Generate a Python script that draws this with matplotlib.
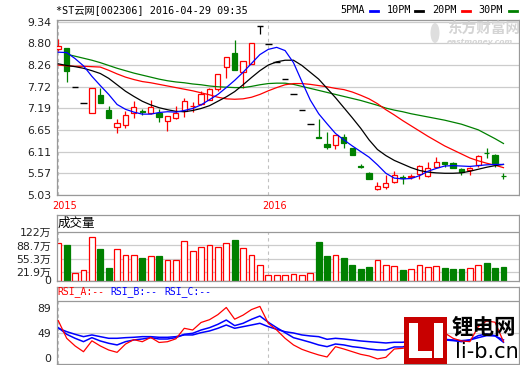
import matplotlib
matplotlib.use('Agg')
import matplotlib.pyplot as plt
from matplotlib.lines import Line2D
from matplotlib.patches import Rectangle, Ellipse
import numpy as np

# candle data (one entry per trading day shown)
open_ = [8.65, 8.68, 7.71, 7.31, 7.08, 7.52, 7.14, 6.73, 6.76, 7.06,
         7.11, 7.08, 7.06, 6.87, 6.95, 7.13, 7.23, 7.28, 7.39, 7.66,
         8.22, 8.55, 8.08, 8.28, 9.24, 8.78, 8.34, 7.92, 7.53, 7.15,
         6.79, 6.46, 6.29, 6.27, 6.48, 6.19, 5.74, 5.57, 5.17, 5.22,
         5.36, 5.47, 5.48, 5.55, 5.50, 5.73, 5.84, 5.82, 5.67, 5.65,
         5.78, 6.08, 6.02, 5.51]
high = [8.90, 8.68, 7.71, 7.31, 7.68, 7.68, 7.24, 6.91, 7.13, 7.37,
        7.18, 7.39, 7.18, 6.99, 7.24, 7.43, 7.35, 7.62, 7.68, 8.05,
        8.45, 8.88, 8.37, 8.80, 9.24, 8.78, 8.34, 7.92, 7.53, 7.15,
        6.79, 6.91, 6.60, 6.52, 6.54, 6.19, 5.79, 5.61, 5.36, 5.53,
        5.63, 5.53, 5.55, 5.78, 5.85, 5.98, 5.86, 5.86, 5.69, 5.73,
        6.02, 6.19, 6.05, 5.57]
low = [8.62, 7.85, 7.71, 7.31, 7.06, 7.31, 6.95, 6.58, 6.70, 6.94,
       7.02, 7.04, 6.85, 6.63, 6.92, 6.98, 7.10, 7.27, 7.39, 7.62,
       7.93, 8.14, 7.68, 8.28, 9.03, 8.78, 8.34, 7.92, 7.53, 7.15,
       6.79, 6.44, 6.17, 6.17, 6.19, 6.02, 5.71, 5.42, 5.15, 5.17,
       5.32, 5.30, 5.43, 5.44, 5.48, 5.69, 5.73, 5.69, 5.53, 5.53,
       5.73, 5.94, 5.73, 5.43]
close = [8.74, 8.10, 7.71, 7.31, 7.68, 7.31, 6.95, 6.81, 7.03, 7.21,
         7.10, 7.21, 6.98, 6.99, 7.06, 7.37, 7.24, 7.54, 7.66, 8.03,
         8.45, 8.14, 8.37, 8.80, 9.24, 8.78, 8.34, 7.92, 7.53, 7.15,
         6.79, 6.44, 6.23, 6.52, 6.33, 6.02, 5.73, 5.42, 5.25, 5.34,
         5.53, 5.46, 5.49, 5.76, 5.71, 5.86, 5.80, 5.69, 5.61, 5.69,
         6.00, 6.07, 5.82, 5.50]

ma5 = [8.58, 8.57, 8.42, 8.24, 7.98, 7.75, 7.53, 7.28, 7.16, 7.09,
       7.04, 7.04, 7.08, 7.10, 7.09, 7.13, 7.18, 7.27, 7.40, 7.53,
       7.70, 7.88, 8.08, 8.30, 8.52, 8.65, 8.70, 8.62, 8.32, 7.85,
       7.39, 7.05, 6.80, 6.56, 6.40, 6.25, 6.11, 5.97, 5.78, 5.57,
       5.45, 5.43, 5.44, 5.51, 5.62, 5.69, 5.75, 5.76, 5.75, 5.74,
       5.76, 5.78, 5.79, 5.79]
ma10 = [8.29, 8.25, 8.22, 8.18, 8.12, 8.05, 7.93, 7.77, 7.61, 7.48,
        7.36, 7.27, 7.20, 7.15, 7.11, 7.10, 7.13, 7.18, 7.25, 7.36,
        7.47, 7.60, 7.77, 7.95, 8.12, 8.26, 8.34, 8.38, 8.38, 8.25,
        8.08, 7.91, 7.68, 7.45, 7.20, 6.95, 6.69, 6.40, 6.16, 6.01,
        5.89, 5.80, 5.71, 5.64, 5.60, 5.58, 5.57, 5.57, 5.58, 5.62,
        5.67, 5.72, 5.76, 5.79]
ma20 = [8.26, 8.24, 8.23, 8.23, 8.22, 8.21, 8.13, 8.04, 7.96, 7.90,
        7.85, 7.82, 7.78, 7.74, 7.70, 7.66, 7.62, 7.57, 7.52, 7.46,
        7.42, 7.41, 7.42, 7.46, 7.53, 7.62, 7.70, 7.77, 7.80, 7.80,
        7.78, 7.75, 7.72, 7.68, 7.65, 7.59, 7.51, 7.42, 7.30, 7.15,
        7.02, 6.88, 6.75, 6.62, 6.49, 6.37, 6.25, 6.15, 6.05, 5.95,
        5.88, 5.82, 5.77, 5.71]
ma30 = [np.nan, 8.53, 8.48, 8.43, 8.38, 8.32, 8.25, 8.18, 8.12, 8.06,
        8.01, 7.96, 7.91, 7.87, 7.84, 7.82, 7.79, 7.77, 7.74, 7.72,
        7.71, 7.70, 7.70, 7.73, 7.77, 7.80, 7.81, 7.81, 7.78, 7.73,
        7.68, 7.63, 7.58, 7.53, 7.48, 7.43, 7.38, 7.32, 7.26, 7.19,
        7.14, 7.10, 7.05, 7.01, 6.97, 6.93, 6.89, 6.84, 6.79, 6.72,
        6.65, 6.54, 6.43, 6.31]

# volume in 万
volume = [96, 89.5, 19.6, 25.6, 109, 79.3, 32.4, 78.5, 64, 64,
          58, 61.4, 61.4, 51, 52.8, 99.7, 74, 83.6, 89.5, 83.6,
          93.8, 102, 81, 64, 40, 12.8, 12.8, 12.8, 15.3, 12.8,
          18.8, 98, 62.2, 64, 57, 38.4, 28.1, 33.2, 51, 38.4,
          35.8, 26.3, 28.1, 38.4, 33.2, 35.8, 31.5, 28.1, 28.1, 30.7,
          38.4, 44.3, 31.5, 33.2]

rsi_a = [68.4, 40.6, 28.5, 19.4, 36.6, 28.5, 22.1, 18.4, 31.5, 38.5,
         35.2, 42.0, 34.0, 35.2, 39.8, 56.4, 53.7, 65.6, 70.0, 78.0,
         89.3, 70.8, 77.2, 86.0, 91.0, 64.3, 53.7, 40.6, 30.1, 23.2,
         18.5, 14.3, 11.1, 27.4, 23.7, 19.5, 15.3, 12.7, 8.0, 10.6,
         23.7, 24.8, 27.4, 50.0, 46.0, 55.0, 49.0, 40.6, 36.4, 35.3,
         59.0, 68.0, 66.0, 35.3]
rsi_b = [57.4, 46.9, 40.6, 35.3, 41.6, 36.4, 32.7, 30.1, 35.3, 38.0,
         39.5, 41.6, 39.5, 39.5, 41.6, 46.9, 48.5, 53.7, 57.4, 62.7,
         69.5, 60.6, 64.3, 70.6, 75.8, 65.9, 57.4, 49.5, 41.6, 38.0,
         34.3, 30.1, 27.4, 31.6, 30.1, 27.4, 25.9, 23.7, 22.2, 22.2,
         26.9, 26.9, 31.1, 35.3, 36.4, 37.4, 38.0, 36.9, 35.3, 38.0,
         44.8, 47.4, 44.8, 34.3]
rsi_c = [56.4, 51.1, 46.9, 43.2, 45.9, 43.2, 40.6, 40.6, 41.6, 42.2,
         43.2, 43.2, 42.2, 42.2, 43.2, 45.9, 45.9, 49.5, 52.2, 56.4,
         61.6, 56.4, 59.0, 61.6, 64.3, 59.0, 54.8, 51.0, 49.0, 45.9,
         44.3, 43.2, 39.0, 40.6, 39.5, 38.0, 36.4, 35.3, 34.3, 33.2,
         34.3, 34.3, 36.4, 38.0, 38.0, 38.5, 39.0, 38.0, 36.9, 38.0,
         41.6, 44.8, 44.3, 38.0]

price_ticks = [9.34, 8.80, 8.26, 7.72, 7.19, 6.65, 6.11, 5.57, 5.03]
vol_ticks = [0, 21.9, 55.3, 88.7, 122]
vol_labels = ['0', '21.9万', '55.3万', '88.7万', '122万']
rsi_ticks = [0, 49, 89]
year_starts = [0, 25]
year_labels = ['2015', '2016']

RED = '#ff0000'
GREEN = '#008000'
BLUE = '#0000ff'
GRID = '#cccccc'
BORDER = '#999999'
MONO = ['DejaVu Sans Mono', 'Noto Sans CJK SC']
CJK = ['DejaVu Sans', 'Noto Sans CJK SC']

W, H = 520, 365
fig = plt.figure(figsize=(W / 100, H / 100), dpi=100)


def box(x0, y0, x1, y1):
    return [x0 / W, 1 - y1 / H, (x1 - x0) / W, (y1 - y0) / H]


def ftext(xp, yp, s, **kw):
    kw.setdefault('va', 'center')
    return fig.text(xp / W, 1 - yp / H, s, **kw)


def frect(x0, y0, x1, y1, color):
    fig.add_artist(Rectangle((x0 / W, 1 - y1 / H), (x1 - x0) / W, (y1 - y0) / H,
                             transform=fig.transFigure, facecolor=color,
                             edgecolor='none'))


def fline(x0, x1, yp, color):
    fig.add_artist(Line2D([x0 / W, x1 / W], [1 - yp / H, 1 - yp / H],
                          transform=fig.transFigure, color=color, lw=2))


ax_k = fig.add_axes(box(57, 20, 519, 195))
ax_v = fig.add_axes(box(57, 215, 519, 280.5))
ax_r = fig.add_axes(box(57, 287, 519, 364))

x = np.arange(len(close))
o = np.array(open_)
c = np.array(close)
h = np.array(high)
l = np.array(low)

for ax in (ax_k, ax_v, ax_r):
    ax.set_xlim(-0.155, 54.85)
    ax.set_xticks([])
    for sp in ax.spines.values():
        sp.set_color(BORDER)
        sp.set_linewidth(0.9)
    ax.tick_params(axis='y', length=0, labelsize=7.8, colors='#222222', pad=4)

# ---- price panel
ax_k.set_ylim(5.03, 9.38)
ax_k.set_yticks(price_ticks, labels=['%.2f' % t for t in price_ticks])
for t in price_ticks:
    ax_k.axhline(t, color=GRID, lw=0.9, zorder=0)
for xs in year_starts:
    ax_k.axvline(xs, color='#c0c0c0', lw=0.8, ls=(0, (3, 3)), zorder=0)

up = c > o
down = c < o
flat = c == o
cols = np.where(up, RED, np.where(down, GREEN, 'black'))
ax_k.vlines(x, l, h, colors=cols, lw=0.9, zorder=2)
ax_k.bar(x[up], (c - o)[up], bottom=o[up], width=0.62, facecolor='white',
         edgecolor=RED, lw=0.9, zorder=3)
ax_k.bar(x[down], (c - o)[down], bottom=o[down], width=0.62, facecolor=GREEN,
         edgecolor=GREEN, lw=0.9, zorder=3)
ax_k.hlines(c[flat], x[flat] - 0.4, x[flat] + 0.4, colors='black', lw=1.0, zorder=3)

ax_k.plot(x, ma30, color=GREEN, lw=0.9, zorder=4)
ax_k.plot(x, ma20, color=RED, lw=0.9, zorder=4)
ax_k.plot(x, ma10, color='black', lw=0.9, zorder=4)
ax_k.plot(x, ma5, color=BLUE, lw=0.9, zorder=4)

# ---- volume panel
vtop = 122 + (232.3 - 215) / (48.2 / 122)
ax_v.set_ylim(0, vtop)
ax_v.set_yticks(vol_ticks, labels=vol_labels, family=CJK)
for t in vol_ticks[1:-1]:
    ax_v.axhline(t, color=GRID, lw=0.9, zorder=0)
ax_v.axhline(122, color=BORDER, lw=0.9, zorder=1)
ax_v.vlines(year_starts, 0, 122, colors='#c0c0c0', lw=0.8, linestyles=(0, (3, 3)), zorder=0)
vup = c >= o
vol = np.array(volume)
ax_v.bar(x[vup], vol[vup], width=0.68, facecolor='white', edgecolor=RED, lw=0.9, zorder=2)
ax_v.bar(x[~vup], vol[~vup], width=0.68, facecolor=GREEN, edgecolor=GREEN, lw=0.9, zorder=2)
ftext(58, 223.5, '成交量', family=['Noto Sans CJK SC'], fontsize=9, color='black')

# ---- RSI panel
rtop = 100 + (300.7 - 287) / (63.3 / 100)
ax_r.set_ylim(0, rtop)
ax_r.set_yticks(rsi_ticks, labels=[str(t) for t in rsi_ticks])
for lab in ax_r.get_yticklabels():
    if lab.get_text() == '0':
        lab.set_va('bottom')
ax_r.axhline(49, color=GRID, lw=0.9, zorder=0)
ax_r.axhline(100, color=BORDER, lw=0.9, zorder=1)
ax_r.vlines(year_starts, 0, 100, colors='#c0c0c0', lw=0.8, linestyles=(0, (3, 3)), zorder=0)
ax_r.plot(x, rsi_c, color=BLUE, lw=1.1, zorder=2)
ax_r.plot(x, rsi_b, color=BLUE, lw=1.1, zorder=2)
ax_r.plot(x, rsi_a, color=RED, lw=0.9, zorder=3)
ftext(57, 292, 'RSI_A:--', family=MONO, fontsize=7, color=RED)
ftext(110, 292, 'RSI_B:--', family=MONO, fontsize=7, color=BLUE)
ftext(164, 292, 'RSI_C:--', family=MONO, fontsize=7, color=BLUE)

# ---- header, legend, year labels
ftext(56, 10, '*ST云网[002306] 2016-04-29 09:35', family=MONO, fontsize=7.3, color='black')
legend_items = [('5PMA', 340, 370, BLUE), ('10PM', 387, 415, 'black'),
                ('20PM', 432, 462, RED), ('30PM', 478, 509, GREEN)]
for name, tx, lx, col in legend_items:
    ftext(tx, 10, name, family=MONO, fontsize=7.3, color='black')
    fline(lx, lx + 8, 11, col)
ftext(52.7, 206, year_labels[0], fontsize=7, color=RED)
ftext(262.7, 206, year_labels[1], fontsize=7, color=RED)

# watermarks
fig.add_artist(Ellipse((435 / W, 1 - 33 / H), 9 / W, 20 / H, transform=fig.transFigure,
                       facecolor='#dedede', edgecolor='none'))
ftext(447, 29, '东方财富网', family=['Noto Sans CJK SC'], fontsize=10.5,
      weight='bold', color='#d4d4d4')
ftext(447, 41.5, 'eastmoney.com', fontsize=5.4, style='italic', weight='bold',
      color='#d4d4d4')

frect(404, 317.3, 446.7, 364, '#c80000')
frect(409.3, 323.3, 417.5, 358, 'white')
frect(409.3, 351, 431.7, 358, 'white')
frect(434, 323.3, 442.5, 358, 'white')
ftext(452, 327.5, '锂电网', family=['Noto Sans CJK SC'], fontsize=15.5,
      weight='bold', color='black')
ftext(455, 352, 'li-b.cn', fontsize=15, color='black')

fig.savefig('out.png', dpi=100)
